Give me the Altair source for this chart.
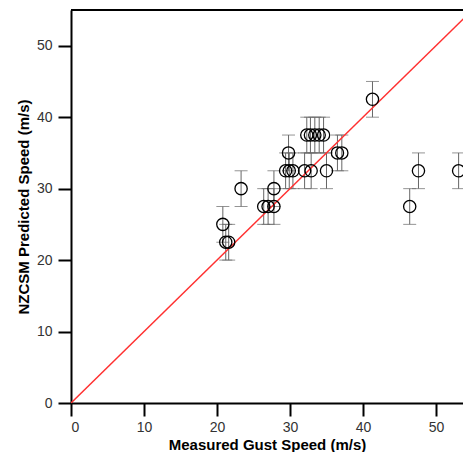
import altair as alt
import pandas as pd

measured = [20.8, 21.2, 21.6, 23.3, 26.4, 27.0, 27.8, 27.8,
            29.8, 29.4, 29.9, 30.4, 32.0, 32.9, 35.0,
            32.3, 32.8, 33.4, 34.0, 34.6, 36.5, 37.1, 41.3,
            46.4, 47.6, 53.1]
predicted = [25.0, 22.5, 22.5, 30.0, 27.5, 27.5, 27.5, 30.0,
             35.0, 32.5, 32.5, 32.5, 32.5, 32.5, 32.5,
             37.5, 37.5, 37.5, 37.5, 37.5, 35.0, 35.0, 42.5,
             27.5, 32.5, 32.5]
err = 2.5
tick_values = [0, 5, 10, 15, 20, 25, 30, 35, 40, 45, 50]
line_pts = [0, 55]
x_max = 53.7
y_max = 55

df = pd.DataFrame({"x": measured, "y": predicted})
df["lo"] = df["y"] - err
df["hi"] = df["y"] + err
ldf = pd.DataFrame({"x": line_pts, "y": line_pts})
tdf = pd.DataFrame({"x0": [0], "x1": [x_max], "y": [y_max]})

xs = alt.Scale(domain=[0, x_max], nice=False, zero=False)
ys = alt.Scale(domain=[0, y_max], nice=False, zero=False)

FONT = "Liberation Sans"
label_expr = "datum.value % 10 == 0 ? datum.label : ''"


def make_axis(title, major, pad, tpad):
    return alt.Axis(values=tick_values,
                    tickSize={"condition": {"test": "datum.value % 10 == 0", "value": major},
                              "value": 7},
                    tickWidth=2, tickColor="black",
                    domainColor="black", domainWidth=2, labelFontSize=14, labelFont=FONT,
                    labelColor="#333333", labelPadding=pad, labelExpr=label_expr,
                    title=title, titleFont=FONT, titleFontSize=15,
                    titleFontWeight="bold", titleColor="black", titlePadding=tpad,
                    grid=False)


xax = make_axis("Measured Gust Speed (m/s)", 13, 4, 3)
yax = make_axis("NZCSM Predicted Speed (m/s)", 13, 6, 5)

base = alt.Chart(df)

bars = base.mark_rule(color="#666666", strokeWidth=1).encode(
    x=alt.X("x:Q", scale=xs, axis=xax),
    y=alt.Y("lo:Q", scale=ys, axis=yax),
    y2="hi:Q",
)
cap_lo = base.mark_tick(color="#666666", thickness=1, size=13, orient="horizontal").encode(
    x=alt.X("x:Q", scale=xs), y=alt.Y("lo:Q", scale=ys))
cap_hi = base.mark_tick(color="#666666", thickness=1, size=13, orient="horizontal").encode(
    x=alt.X("x:Q", scale=xs), y=alt.Y("hi:Q", scale=ys))

pts = base.mark_point(shape="circle", size=150, filled=False, color="black",
                      strokeWidth=1.3, opacity=1).encode(
    x=alt.X("x:Q", scale=xs), y=alt.Y("y:Q", scale=ys))

line = alt.Chart(ldf).mark_line(color="#ff3030", strokeWidth=1.5, clip=True).encode(
    x=alt.X("x:Q", scale=xs), y=alt.Y("y:Q", scale=ys))

top = alt.Chart(tdf).mark_rule(color="black", strokeWidth=2).encode(
    x=alt.X("x0:Q", scale=xs), x2="x1:Q", y=alt.Y("y:Q", scale=ys))

chart = alt.layer(bars, cap_lo, cap_hi, line, pts, top).properties(
    width=392, height=393,
    autosize=alt.AutoSizeParams(type="none"),
    padding={"left": 63, "top": 2, "right": 0, "bottom": 49},
).configure_view(stroke=None)

chart.save("out.html", embed_options={"renderer": "svg", "actions": False})
